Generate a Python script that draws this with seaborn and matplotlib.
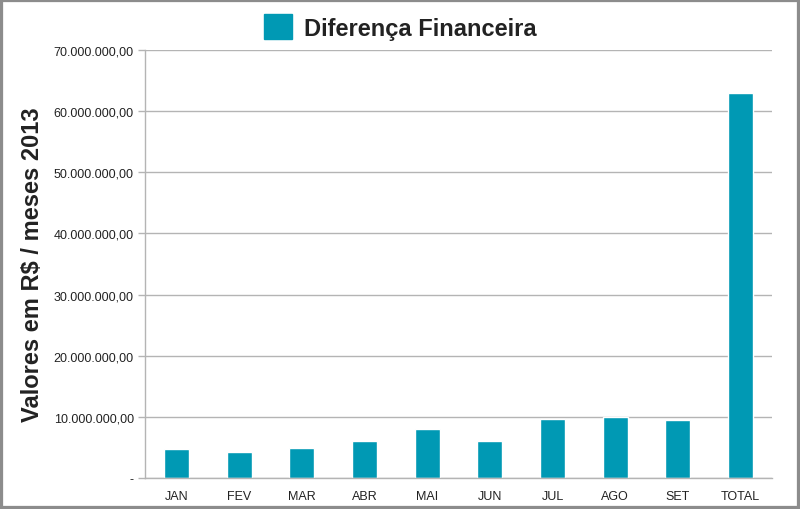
import matplotlib
matplotlib.use("Agg")
from matplotlib import pyplot as plt
from matplotlib.patches import Patch, Rectangle
import matplotlib.ticker as ticker
import seaborn as sns
import pandas as pd

meses = ["JAN", "FEV", "MAR", "ABR", "MAI", "JUN", "JUL", "AGO", "SET", "TOTAL"]
diferenca = [4750000, 4300000, 4860000, 6100000, 8000000, 6100000,
             9650000, 10000000, 9440000, 62950000]
yticks = [0, 10000000, 20000000, 30000000, 40000000, 50000000, 60000000, 70000000]

cor = "#0099B4"

sns.set_theme(style="white")
plt.rcParams["font.family"] = ["Liberation Sans", "DejaVu Sans"]

df = pd.DataFrame({"mes": meses, "valor": diferenca})

fig = plt.figure(figsize=(8, 5.1), dpi=100)
ax = fig.add_axes([145 / 800, 31 / 510, 627 / 800, 428 / 510])
sns.barplot(data=df, x="mes", y="valor", color=cor, width=0.4,
            saturation=1, ax=ax)

ax.set_ylim(0, 70000000)
ax.set_yticks(yticks)


def fmt_br(v, pos):
    if v == 0:
        return "-"
    s = f"{v:,.2f}"
    return s.replace(",", "X").replace(".", ",").replace("X", ".")


ax.yaxis.set_major_formatter(ticker.FuncFormatter(fmt_br))
ax.yaxis.grid(True, color="#b4b4b4", linewidth=1)
ax.set_axisbelow(True)
for side in ["top", "right"]:
    ax.spines[side].set_visible(False)
for side in ["left", "bottom"]:
    ax.spines[side].set_color("#b4b4b4")
    ax.spines[side].set_linewidth(1)
ax.tick_params(axis="y", labelsize=9, colors="#222222", length=5, width=1,
               color="#b4b4b4", left=True, pad=3)
ax.tick_params(axis="x", labelsize=9, colors="#222222", length=0, pad=9)
ax.set_xlabel("")
ax.set_ylabel("")

fig.text(33 / 800, 1 - 265 / 510, "Valores em R$ / meses 2013", rotation=90,
         fontsize=17, fontweight="bold", color="#222222",
         ha="center", va="center")

fig.legend(handles=[Patch(facecolor=cor, edgecolor=cor)],
           labels=["Diferença Financeira"], loc="center",
           bbox_to_anchor=(400 / 800, 1 - 28 / 510), frameon=False,
           prop={"size": 17, "weight": "bold"}, handlelength=1.2,
           handleheight=1.2, handletextpad=0.5, labelcolor="#222222")

fig.patches.append(Rectangle((0, 0), 1, 1, transform=fig.transFigure,
                             fill=False, edgecolor="#8c8c8c", linewidth=4.5))

fig.savefig("out.png", dpi=100)
